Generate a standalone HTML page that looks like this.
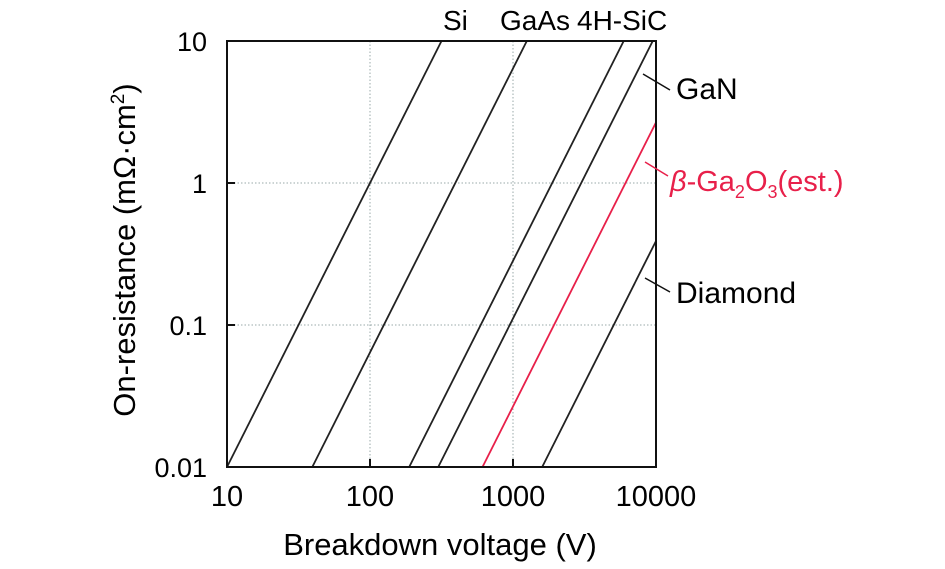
<!DOCTYPE html>
<html><head><meta charset="utf-8"><style>
body{margin:0;background:#fff;width:945px;height:564px;overflow:hidden}
text{font-family:"Liberation Sans",sans-serif}
</style></head><body>
<svg id="chart" width="945" height="564" xmlns="http://www.w3.org/2000/svg"></svg>
<script>
const materials=["Si","GaAs","4H-SiC","GaN","Ga2O3","Diamond"];
const v0=[10,39.5,188,300,612,1600]; // breakdown V at R=0.01
const slope=[2,2,2,2,2,2];
const colors=["#222","#222","#222","#222","#e8204a","#222"];
const xTicks=[10,100,1000,10000];
const xTickLabels=["10","100","1000","10000"];
const yTicks=[0.01,0.1,1,10];
const yTickLabels=["0.01","0.1","1","10"];
const X0=227,X1=656,Y0=467,Y1=41;
const sx=v=>X0+(Math.log10(v)-1)/3*(X1-X0);
const sy=r=>Y0-(Math.log10(r)+2)/3*(Y0-Y1);
const svg=document.getElementById('chart');
const NS='http://www.w3.org/2000/svg';
function mk(t,a,p){const e=document.createElementNS(NS,t);for(const k in a)e.setAttribute(k,a[k]);(p||svg).appendChild(e);return e;}
xTicks.slice(1,3).forEach(v=>{const e=mk('line',{x1:sx(v),x2:sx(v),y1:Y1,y2:Y0,stroke:'#9aa',"stroke-dasharray":"1.5,2","stroke-width":1});

});
yTicks.slice(1,3).forEach(r=>{const e=mk('line',{x1:X0,x2:X1,y1:sy(r),y2:sy(r),stroke:'#9aa',"stroke-dasharray":"1.5,2","stroke-width":1});

});
materials.forEach((m,i)=>{const vs=v0[i],ve=Math.min(10000,v0[i]*Math.pow(1000,1/slope[i]));
const re=0.01*Math.pow(ve/vs,slope[i]);
const e=mk('line',{x1:sx(vs),y1:sy(0.01),x2:sx(ve),y2:sy(re),stroke:colors[i],"stroke-width":1.8});

});
const f=mk('rect',{x:X0,y:Y1,width:X1-X0,height:Y0-Y1,fill:'none',stroke:'#111',"stroke-width":2});


xTicks.forEach((v,i)=>{mk('line',{x1:sx(v),x2:sx(v),y1:Y0,y2:Y0-8,stroke:'#111',"stroke-width":2});
const t=mk('text',{x:sx(v),y:506,"text-anchor":"middle","font-size":29});t.textContent=xTickLabels[i];

});
yTicks.forEach((r,i)=>{mk('line',{x1:X0,x2:X0+8,y1:sy(r),y2:sy(r),stroke:'#111',"stroke-width":2});
const t=mk('text',{x:207,y:sy(r)+10,"text-anchor":"end","font-size":27});t.textContent=yTickLabels[i];

});
</script>
<svg style="position:absolute;left:0;top:0" width="945" height="564" xmlns="http://www.w3.org/2000/svg">
<text x="440" y="555" text-anchor="middle" font-size="31">Breakdown voltage (V)</text>
<text transform="translate(135,250) rotate(-90)" text-anchor="middle" font-size="31">On-resistance (mΩ·cm<tspan font-size="19" dy="-11">2</tspan><tspan dy="11">)</tspan></text>
<text x="443" y="30" font-size="28">Si</text>
<text x="500" y="30" font-size="28">GaAs</text>
<text x="577" y="30" font-size="28">4H-SiC</text>
<line x1="643" y1="74" x2="670" y2="90" stroke="#111" stroke-width="1.5"/>
<text x="676" y="99" font-size="30">GaN</text>
<line x1="645" y1="162" x2="668" y2="176" stroke="#e8204a" stroke-width="1.5"/>
<text x="670" y="191" font-size="29" fill="#e8204a"><tspan font-style="italic">β</tspan>-Ga<tspan font-size="18" dy="7">2</tspan><tspan dy="-7">O</tspan><tspan font-size="18" dy="7">3</tspan><tspan dy="-7">(est.)</tspan></text>
<line x1="645" y1="278" x2="670" y2="292" stroke="#111" stroke-width="1.5"/>
<text x="676" y="303" font-size="30">Diamond</text>
</svg>
</body></html>
